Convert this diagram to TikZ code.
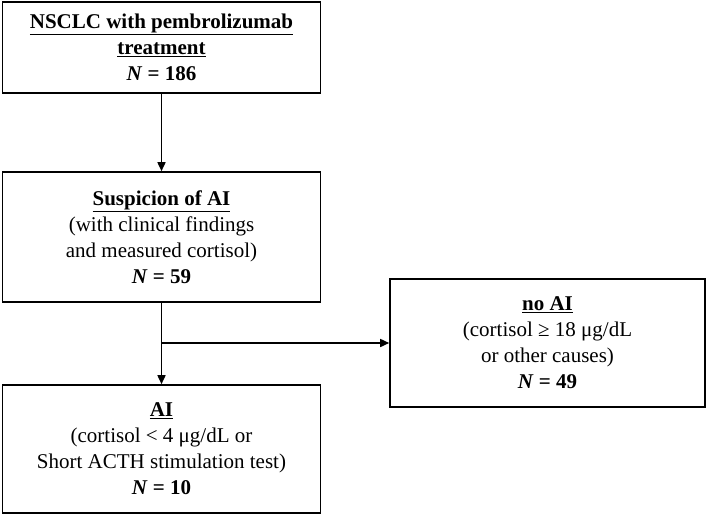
\documentclass[tikz,border=0pt]{standalone}
\usepackage{fontspec}
\setmainfont{Liberation Serif}
\usetikzlibrary{arrows.meta}
\tikzset{
  box/.style={shape=rectangle,draw=black,line width=1.6pt,align=center,
    font=\fontsize{21}{26}\selectfont,inner sep=0pt},
  flow/.style={draw=black,line width=1.6pt,-{Triangle[length=9pt,width=8pt]}}
}
\begin{document}
\begin{tikzpicture}[x=1pt,y=-1pt]
  \useasboundingbox (0,0) rectangle (709,517);
  \node[box,minimum width=318pt,minimum height=91pt] (treat) at (161.5,47.5)
    {\textbf{\underline{NSCLC with pembrolizumab}}\\\textbf{\underline{treatment}}\\\textbf{\textit{N} = 186}};
  \node[box,minimum width=318pt,minimum height=130pt] (susp) at (161.5,237)
    {\textbf{\underline{Suspicion of AI}}\\(with clinical findings\\and measured cortisol)\\\textbf{\textit{N} = 59}};
  \node[box,minimum width=318pt,minimum height=128pt] (ai) at (161.5,449)
    {\textbf{\underline{AI}}\\(cortisol < 4 μg/dL or\\Short ACTH stimulation test)\\\textbf{\textit{N} = 10}};
  \node[box,minimum width=315pt,minimum height=128pt] (noai) at (547.5,343)
    {\textbf{\underline{no AI}}\\(cortisol ≥ 18 μg/dL\\or other causes)\\\textbf{\textit{N} = 49}};
  \coordinate (split) at (161.5,343);
  \draw[flow] (treat) -- (susp);
  \draw[flow] (susp) -- (ai);
  \draw[flow] (split) -- (noai);
\end{tikzpicture}
\end{document}
